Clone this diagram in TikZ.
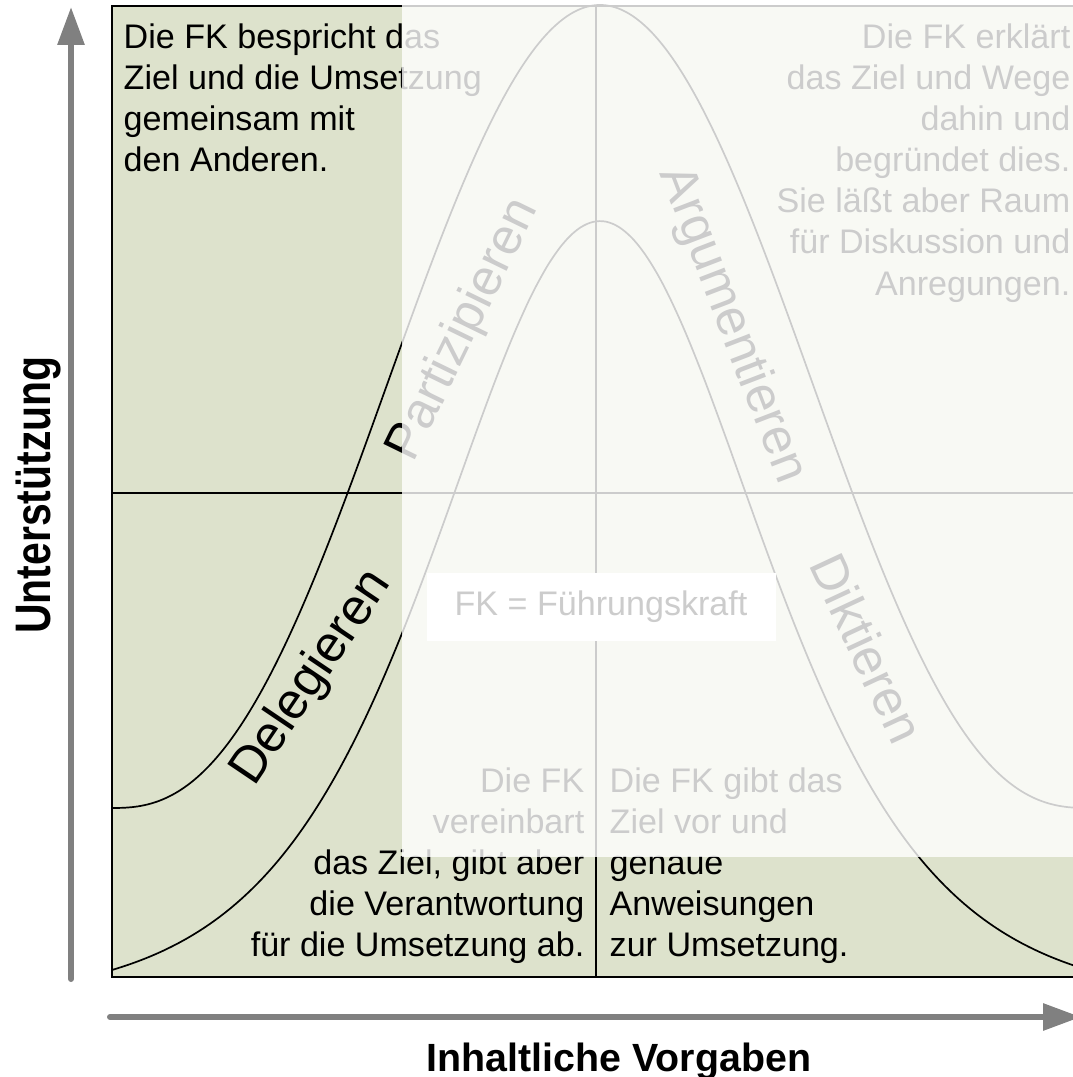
\documentclass[tikz,border=0pt]{standalone}
\usepackage{fontspec}
\setmainfont{Liberation Sans}
\newfontfamily\narrowfont[FakeStretch=0.82]{Liberation Sans}
\usepackage{tikz}
\usetikzlibrary{arrows.meta}
\definecolor{fieldgreen}{RGB}{221,226,204}
\definecolor{axisgray}{RGB}{128,128,128}
\tikzstyle{axisarrow} = [line width=0.6mm, draw=axisgray, line cap=round, -{Triangle[length=3.8mm, width=2.6mm]}]
\tikzstyle{gridline} = [line width=0.13mm, draw=black]
\tikzstyle{bell} = [line width=0.17mm, draw=black]
\tikzstyle{desc} = [inner sep=0pt, font=\fontsize{9.7}{11.7}\selectfont]
\tikzstyle{mode} = [inner sep=0pt, font=\fontsize{14.5}{17}\selectfont]
\tikzstyle{axislabel} = [inner sep=0pt, font=\bfseries\fontsize{11.2}{13}\selectfont]
\tikzstyle{veil} = [fill=white, fill opacity=0.8]
\pgfmathdeclarefunction{outerbell}{1}{%
	\pgfmathsetmacro\bellt{(1.0001+cos((#1-600)*0.368852))/2}%
	\pgfmathparse{808-803*\bellt*sqrt(sqrt(\bellt))}}
\pgfmathdeclarefunction{innerbell}{1}{%
	\pgfmathsetmacro\bellc{cosh((#1-600)/215)}%
	\pgfmathparse{970-749*(1/(\bellc*\bellc)-0.0418)/0.958}}

\begin{document}
\begin{tikzpicture}[x=0.1mm, y=-0.1mm]
		\useasboundingbox (0,0) rectangle (1072,1077);
		\coordinate (nw) at (112,6);
		\coordinate (se) at (1081,977);
		\coordinate (west) at (112,493);
		\coordinate (east) at (1081,493);
		\coordinate (north) at (596,6);
		\coordinate (south) at (596,977);
		\fill [fieldgreen] (nw) rectangle (se);
		\draw [bell] plot[domain=112:1081, samples=150, smooth] (\x, {outerbell(\x)});
		\draw [bell] plot[domain=112:1081, samples=150, smooth] (\x, {innerbell(\x)});
		\draw [gridline] (west) -- (east);
		\draw [gridline] (north) -- (south);
		\draw [gridline] (nw) rectangle (se);
		\node (legend) [desc, fill=white, minimum width=34.9mm, minimum height=6.8mm] at (601,607) {FK = Führungskraft};
		\node (participate) [desc, anchor=north west, align=left] at (123,23) {Die FK bespricht das\\Ziel und die Umsetzung\\gemeinsam mit\\den Anderen.};
		\node (argue) [desc, anchor=north east, align=right] at (1071,23) {Die FK erklärt\\das Ziel und Wege\\dahin und\\begründet dies.\\Sie läßt aber Raum\\für Diskussion und\\Anregungen.};
		\node (delegate) [desc, anchor=north east, align=right] at (585,767) {Die FK\\vereinbart\\das Ziel, gibt aber\\die Verantwortung\\für die Umsetzung ab.};
		\node (dictate) [desc, anchor=north west, align=left] at (609,767) {Die FK gibt das\\Ziel vor und\\genaue\\Anweisungen\\zur Umsetzung.};
		\node (delegieren) [mode, rotate=56] at (312,678) {Delegieren};
		\node (partizipieren) [mode, rotate=64] at (464,330) {Partizipieren};
		\node (argumentieren) [mode, rotate=-69] at (732,325) {Argumentieren};
		\node (diktieren) [mode, rotate=-65] at (867,648) {Diktieren};
		\fill [veil] (402,3) rectangle (1081,857);
		\coordinate (yfoot) at (71,979);
		\coordinate (ytip) at (71,7);
		\coordinate (xfoot) at (110,1017);
		\coordinate (xtip) at (1081,1017);
		\draw [axisarrow] (yfoot) -- (ytip);
		\draw [axisarrow] (xfoot) -- (xtip);
		\node (ylabel) [axislabel, font=\narrowfont\bfseries\fontsize{14.2}{17}\selectfont, rotate=90, anchor=base] at (50,495) {Unterstützung};
		\node (xlabel) [axislabel, anchor=base] at (619,1071) {Inhaltliche Vorgaben};
	\end{tikzpicture}
\end{document}
